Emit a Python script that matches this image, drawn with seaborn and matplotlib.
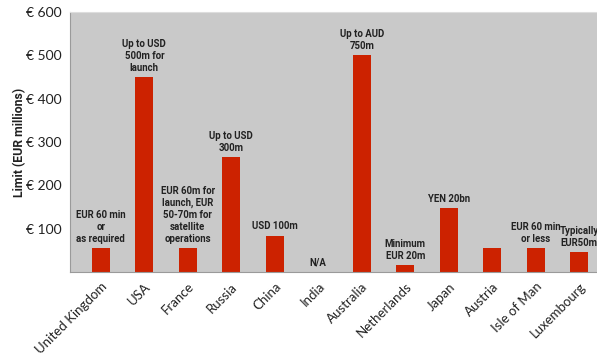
import matplotlib
matplotlib.use("Agg")
import matplotlib.pyplot as plt
from matplotlib import transforms
import seaborn as sns
import pandas as pd

countries = ["United Kingdom", "USA", "France", "Russia", "China", "India",
             "Australia", "Netherlands", "Japan", "Austria", "Isle of Man", "Luxembourg"]
limits = [55, 450, 55, 265, 84, 0, 500, 16, 148, 55, 55, 46]
notes = ["EUR 60 min\nor\nas required",
         "Up to USD\n500m for\nlaunch",
         "EUR 60m for\nlaunch, EUR\n50-70m for\nsatellite\noperations",
         "Up to USD\n300m",
         "USD 100m",
         "N/A",
         "Up to AUD\n750m",
         "Minimum\nEUR 20m",
         "YEN 20bn",
         "",
         "EUR 60 min\nor less",
         "Typically\nEUR50m"]
yticks = [100, 200, 300, 400, 500, 600]
ytick_labels = ["€ 100", "€ 200", "€ 300", "€ 400", "€ 500", "€ 600"]

df = pd.DataFrame({"country": countries, "limit": limits})

sns.set_theme(style="white")
plt.rcParams["font.family"] = ["Lato", "DejaVu Sans"]
bold_family = ["Roboto", "DejaVu Sans"]

fig = plt.figure(figsize=(5.97, 3.6), dpi=100)
ax = fig.add_axes([70/597, 1-272/360, 1-70/597, 260/360])
ax.set_facecolor("#c9c9c9")

sns.barplot(data=df, x="country", y="limit", order=countries, color="#cc2200",
            width=0.41, saturation=1, edgecolor="none", linewidth=0, ax=ax)

for i, (v, t) in enumerate(zip(limits, notes)):
    if t:
        ax.annotate(t, (i, v), xytext=(0, 3), textcoords="offset points",
                    ha="center", va="bottom", fontsize=6.9, fontweight="bold",
                    family=bold_family, color="#222222", linespacing=1.25)

ax.set_xlim(-0.71, 11.41)
ax.set_ylim(0, 600)
ax.set_yticks(yticks)
ax.set_yticklabels(ytick_labels, fontsize=10, color="#222222")
ax.set_xticks(range(len(countries)))
ax.set_xticklabels(countries, rotation=45, ha="right", rotation_mode="anchor",
                   fontsize=9.5, color="#222222")
shift = transforms.ScaledTranslation(-4/72, -4/72, fig.dpi_scale_trans)
for lab in ax.get_xticklabels():
    lab.set_transform(lab.get_transform() + shift)
ax.tick_params(axis="y", length=0, pad=6)
ax.tick_params(axis="x", length=0, pad=6)
ax.set_xlabel("")
ax.set_ylabel("Limit (EUR millions)", fontsize=8.8, fontweight="bold",
              family=bold_family, color="#222222")
ax.yaxis.set_label_coords(-0.084, 0.5)
for s in ax.spines.values():
    s.set_color("#9a9a9a")
    s.set_linewidth(0.8)
ax.spines["top"].set_color("#dddddd")
ax.spines["right"].set_visible(False)

fig.savefig("out.png", dpi=100)
